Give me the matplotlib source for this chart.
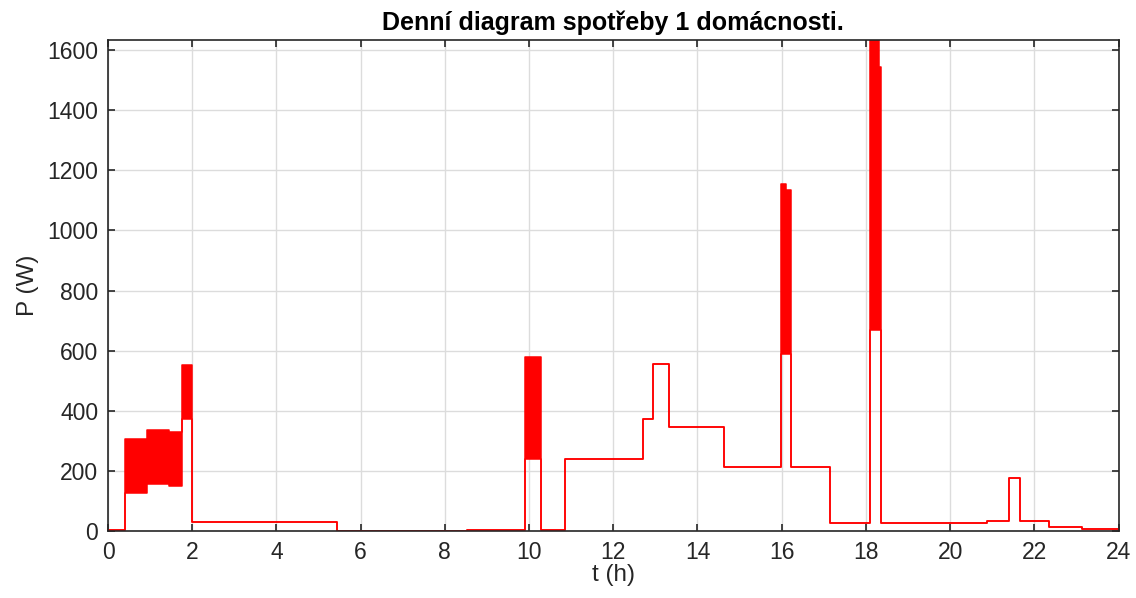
import matplotlib
matplotlib.use("Agg")
import matplotlib.pyplot as plt
import numpy as np

plt.rcParams['font.family'] = ['Liberation Sans', 'DejaVu Sans']

# step segments: start time (h), lower level (W), upper level (W)
# upper > lower where the load switches fast (drawn as a filled band)
t_start = [0.00, 0.40, 0.93, 1.45, 1.75, 2.00, 5.44, 8.53, 9.90, 10.29, 10.86,
           12.71, 12.95, 13.33, 14.63, 15.98, 16.10, 16.22, 17.15, 18.10,
           18.31, 18.36, 20.87, 21.40, 21.65, 22.36, 23.13]
p_low = [5, 128, 155, 150, 372, 30, 1, 4, 240, 4, 241,
         372, 557, 346, 214, 590, 590, 214, 27, 668,
         668, 27, 34, 175, 34, 15, 7]
p_high = [5, 305, 335, 328, 552, 30, 1, 4, 580, 4, 241,
          372, 557, 346, 214, 1155, 1135, 214, 27, 1640,
          1545, 27, 34, 175, 34, 15, 7]
t_end = 24.0

t = np.array(t_start + [t_end])
lo = np.array(p_low + [p_low[-1]])
hi = np.array(p_high + [p_high[-1]])

fig = plt.figure(figsize=(11.36, 5.98), dpi=100)
ax = fig.add_axes([0.0951, 0.112, 0.8895, 0.821])

red = '#ff0000'
ax.fill_between(t, lo, hi, step='post', color=red, linewidth=0)
ax.step(t, hi, where='post', color=red, linewidth=1.1)
ax.step(t, lo, where='post', color=red, linewidth=1.1)

ax.set_xlim(0, 24)
ax.set_ylim(0, 1633)
ax.set_xticks(np.arange(0, 25, 2))
ax.set_yticks(np.arange(0, 1601, 200))

ax.grid(True, color='#dcdcdc', linewidth=1.0)
ax.set_axisbelow(True)
for s in ax.spines.values():
    s.set_color('#262626')
    s.set_linewidth(1.2)
ax.tick_params(direction='in', top=True, right=True, length=5, width=1.2,
               colors='#262626', labelsize=16.5, pad=7)

ax.set_title('Denní diagram spotřeby 1 domácnosti.', fontsize=18,
             fontweight='bold', pad=7)
ax.set_xlabel('t (h)', fontsize=17.5, color='#262626', labelpad=0)
ax.set_ylabel('P (W)', fontsize=17.5, color='#262626', labelpad=6)

fig.savefig('out.png', dpi=100)
